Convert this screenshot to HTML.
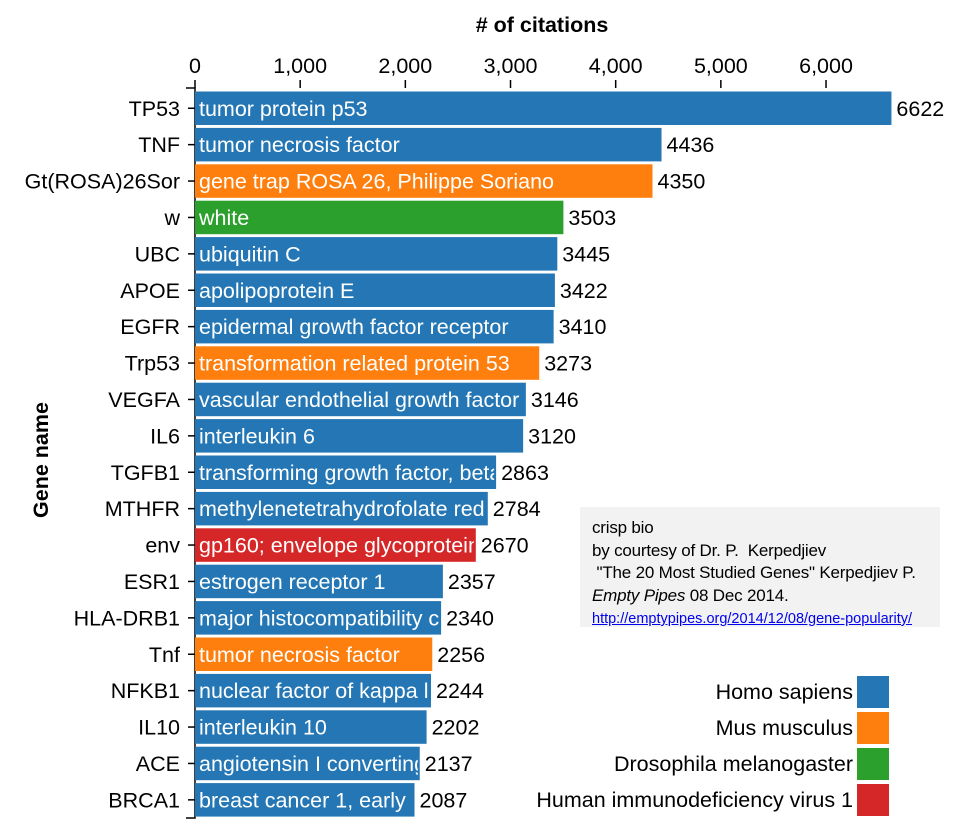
<!DOCTYPE html>
<html><head><meta charset="utf-8"><style>
html,body{margin:0;padding:0;background:#fff;}
body{width:969px;height:831px;position:relative;overflow:hidden;font-family:"Liberation Sans",sans-serif;}
#note{position:absolute;left:580px;top:507px;width:360px;height:120px;background:#f2f2f2;box-sizing:border-box;padding:10px 0 0 12px;font-size:17px;line-height:22.5px;color:#000;white-space:nowrap;letter-spacing:-0.2px}
#note a{color:#0000ee;font-size:14.5px;text-decoration:underline;letter-spacing:0}
</style></head><body>
<svg id="chart" width="969" height="831" style="position:absolute;left:0;top:0;font-family:'Liberation Sans',sans-serif"></svg>
<div id="note">crisp bio<br>by courtesy of Dr. P.&nbsp; Kerpedjiev<br>&nbsp;"The 20 Most Studied Genes" Kerpedjiev P.<br><i>Empty Pipes</i> 08 Dec 2014.<br><a>http://emptypipes.org/2014/12/08/gene-popularity/</a></div>
<script>
const genes=["TP53","TNF","Gt(ROSA)26Sor","w","UBC","APOE","EGFR","Trp53","VEGFA","IL6","TGFB1","MTHFR","env","ESR1","HLA-DRB1","Tnf","NFKB1","IL10","ACE","BRCA1"];
const descriptions=["tumor protein p53","tumor necrosis factor","gene trap ROSA 26, Philippe Soriano","white","ubiquitin C","apolipoprotein E","epidermal growth factor receptor","transformation related protein 53","vascular endothelial growth factor A","interleukin 6","transforming growth factor, beta 1","methylenetetrahydrofolate reductase","gp160; envelope glycoprotein","estrogen receptor 1","major histocompatibility complex","tumor necrosis factor","nuclear factor of kappa light","interleukin 10","angiotensin I converting enzyme","breast cancer 1, early onset"];
const citations=[6622,4436,4350,3503,3445,3422,3410,3273,3146,3120,2863,2784,2670,2357,2340,2256,2244,2202,2137,2087];
const species=[0,0,1,2,0,0,0,1,0,0,0,0,3,0,0,1,0,0,0,0];
const speciesNames=["Homo sapiens","Mus musculus","Drosophila melanogaster","Human immunodeficiency virus 1"];
const ticks=[0,1000,2000,3000,4000,5000,6000];
const colors=["#2477b4","#fe7f0e","#2ca02c","#d62728"];
const svg=document.getElementById('chart');const NS="http://www.w3.org/2000/svg";
function mk(t,a,p){const e=document.createElementNS(NS,t);for(const k in a)e.setAttribute(k,a[k]);(p||svg).appendChild(e);return e;}
const x=v=>195+v*0.10517;
const y=i=>91.5+i*36.4;
const bh=33.5;
const FS=21.5;
let t=mk('text',{x:542,y:32,'text-anchor':'middle','font-size':21.5,'font-weight':'bold'});t.textContent="# of citations";

t=mk('text',{transform:'translate(48,460) rotate(-90)','text-anchor':'middle','font-size':21.5,'font-weight':'bold'});t.textContent="Gene name";

ticks.forEach(v=>{mk('line',{x1:x(v),x2:x(v),y1:80,y2:88,stroke:'#000','stroke-width':1.5});
const l=mk('text',{x:x(v),y:73,'text-anchor':'middle','font-size':FS});l.textContent=v.toLocaleString('en-US');
});
mk('path',{d:'M186,88H195V818H186',fill:'none',stroke:'#000','stroke-width':1.5});
const defs=mk('defs',{});
genes.forEach((g,i)=>{
 const r=mk('rect',{x:x(0),y:y(i),width:x(citations[i])-x(0),height:bh,fill:colors[species[i]]});
 
 const cp=mk('clipPath',{id:'c'+i},defs);mk('rect',{x:x(0),y:y(i),width:x(citations[i])-x(0)-2,height:bh},cp);
 const cy=y(i)+bh/2+7.5;
 mk('line',{x1:188,x2:195,y1:y(i)+bh/2,y2:y(i)+bh/2,stroke:'#000','stroke-width':1.5});
 let a=mk('text',{x:x(0)+4,y:cy,'font-size':FS,fill:'#fff','clip-path':'url(#c'+i+')'});a.textContent=descriptions[i];
 
 a=mk('text',{x:x(citations[i])+5,y:cy,'font-size':FS});a.textContent=citations[i];
 
 a=mk('text',{x:180,y:cy,'font-size':FS,'text-anchor':'end'});a.textContent=g;
 
});
speciesNames.forEach((s,i)=>{
 const g=mk('g',{});
 mk('rect',{x:857,y:676+i*36,width:32,height:32,fill:colors[i]},g);
 const l=mk('text',{x:853,y:699+i*36,'text-anchor':'end','font-size':FS},g);l.textContent=s;
});
</script>
</body></html>
